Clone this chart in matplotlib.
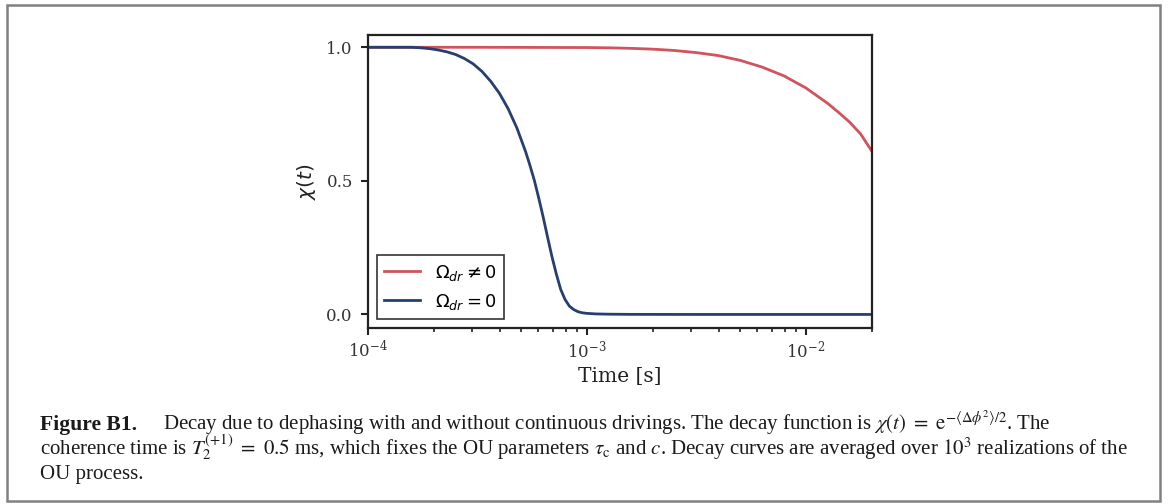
import numpy as np
import matplotlib
matplotlib.use("Agg")
import matplotlib.pyplot as plt
from matplotlib.patches import Rectangle

# values (time given as log10 of seconds)
logt_drive = [-4.0, -3.5, -3.0, -2.9, -2.8, -2.7, -2.6, -2.5, -2.4, -2.3, -2.2,
              -2.1, -2.0, -1.9, -1.85, -1.8, -1.75, -1.699]
chi_drive = [1.0, 1.0, 0.999, 0.998, 0.996, 0.993, 0.988, 0.980, 0.969, 0.951, 0.926,
             0.893, 0.848, 0.790, 0.756, 0.720, 0.676, 0.612]

logt_nodrive = [-4.0, -3.8, -3.76, -3.72, -3.68, -3.64, -3.6, -3.56, -3.52, -3.48,
                -3.44, -3.4, -3.36, -3.32, -3.28, -3.26, -3.24, -3.22, -3.2, -3.18,
                -3.16, -3.14, -3.12, -3.1, -3.08, -3.06, -3.04, -3.02, -3.0, -2.96,
                -2.9, -2.8, -2.5, -2.0, -1.699]
chi_nodrive = [1.0, 1.0, 0.998, 0.995, 0.990, 0.983, 0.973, 0.958, 0.938, 0.910,
               0.873, 0.828, 0.770, 0.698, 0.609, 0.557, 0.501, 0.435, 0.365, 0.290,
               0.217, 0.152, 0.094, 0.056, 0.031, 0.018, 0.010, 0.006, 0.004, 0.002,
               0.001, 0.0003, 0.0, 0.0, 0.0]

labels = [r'$\Omega_{dr} \neq 0$', r'$\Omega_{dr} = 0$']
colors = ['#d1535c', '#263f6f']

t_drive = 10 ** np.array(logt_drive)
t_nodrive = 10 ** np.array(logt_nodrive)

plt.rcParams['font.family'] = 'DejaVu Serif'

fig = plt.figure(figsize=(11.74, 5.04), dpi=100)
ax = fig.add_axes([0.3135, 0.3496, 0.429, 0.5815])

ax.plot(t_drive, chi_drive, color=colors[0], lw=2.0, label=labels[0])
ax.plot(t_nodrive, chi_nodrive, color=colors[1], lw=2.0, label=labels[1])

ax.set_xscale('log')
ax.set_xlim(1e-4, 2e-2)
ax.set_ylim(-0.05, 1.047)
ax.set_yticks([0.0, 0.5, 1.0])
ax.set_yticklabels(['0.0', '0.5', '1.0'])
for s in ax.spines.values():
    s.set_linewidth(1.6)
    s.set_color('#222222')
ax.tick_params(which='major', length=5, width=1.5, labelsize=12, color='#222222', labelcolor='#333333')
ax.tick_params(which='minor', length=3, width=1.2, color='#222222')
ax.tick_params(axis='y', pad=6)

ax.set_xlabel('Time [s]', fontsize=14.5, color='#222222', labelpad=4)
ax.set_ylabel(r'$\chi(t)$', fontsize=14.5, color='#222222', labelpad=6)

leg = ax.legend(loc='lower left', prop={'family': 'DejaVu Sans', 'size': 13},
                fancybox=False, edgecolor='#333333', framealpha=1,
                borderaxespad=0.5, handlelength=2.0)
leg.get_frame().set_linewidth(1.2)

# frame around the whole figure
fig.patches.append(Rectangle((7 / 1174, 3.5 / 504), 1153 / 1174, 496 / 504,
                             transform=fig.transFigure, fill=False,
                             edgecolor='#808080', lw=1.8))

# caption
cap_font = 'Liberation Serif'
cap_size = 15.0
x0 = 40 / 1174
ys = [1 - 430 / 504, 1 - 455 / 504, 1 - 479 / 504]
lines = [
    r'Decay due to dephasing with and without continuous drivings. The decay function is '
    r'$\chi(t)\ =\ \mathrm{e}^{-\langle\Delta\phi^2\rangle/2}$. The',
    r'coherence time is $T_2^{(+1)}\ =\ 0.5$ ms, which fixes the OU parameters $\tau_\mathrm{c}$ '
    r'and $c$. Decay curves are averaged over $10^3$ realizations of the',
    'OU process.',
]
fig.text(x0, ys[0], 'Figure B1.', family=cap_font, size=15.6,
         weight='bold', va='baseline', color='#1a1a1a')
fig.text(163 / 1174, ys[0], lines[0], family=cap_font, size=cap_size,
         va='baseline', math_fontfamily='stix', color='#1a1a1a')
for y, s in zip(ys[1:], lines[1:]):
    fig.text(x0, y, s, family=cap_font, size=cap_size, va='baseline',
             math_fontfamily='stix', color='#1a1a1a')

fig.savefig('out.png', dpi=100)
